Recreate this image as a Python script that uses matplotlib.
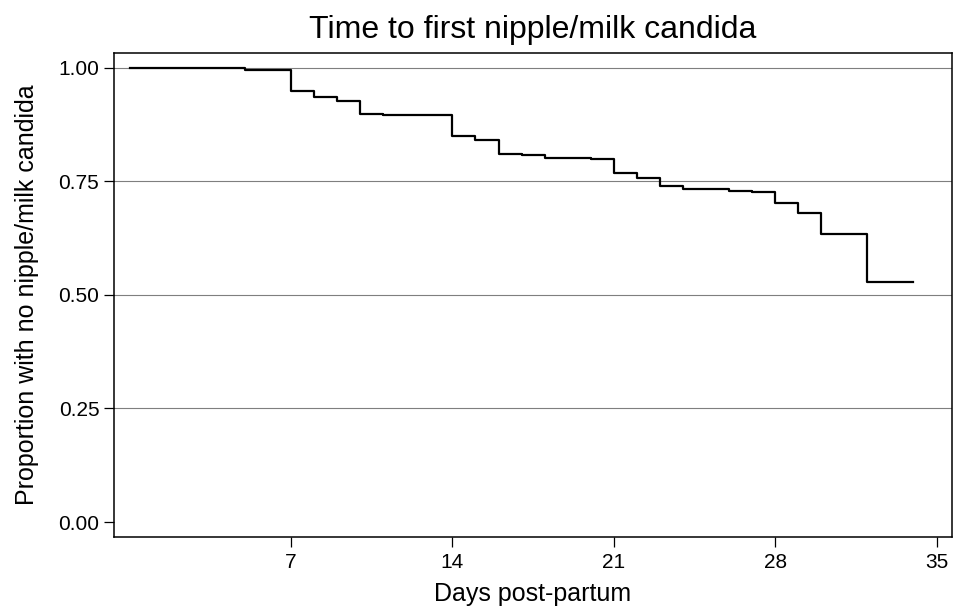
import matplotlib
matplotlib.use("Agg")
import matplotlib.pyplot as plt

plt.rcParams['font.family'] = ['Liberation Sans', 'DejaVu Sans']

# Kaplan-Meier estimate
days = [0, 5, 7, 8, 9, 10, 11, 14, 15, 16, 17, 18, 20, 21, 22, 23, 24, 26, 27, 28, 29, 30, 32, 34]
surv = [1.000, 0.996, 0.949, 0.936, 0.927, 0.899, 0.896, 0.851, 0.841, 0.811, 0.809,
        0.802, 0.799, 0.769, 0.757, 0.740, 0.733, 0.729, 0.727, 0.703, 0.680, 0.634,
        0.528, 0.528]

xticks = [7, 14, 21, 28, 35]
yticks = [0.0, 0.25, 0.5, 0.75, 1.0]

fig = plt.figure(figsize=(9.56, 6.10), dpi=100)
ax = fig.add_axes([0.1192, 0.1197, 0.8766, 0.7934])

for y in yticks[1:]:
    ax.axhline(y, color='#7f7f7f', lw=0.8, zorder=1)

ax.step(days, surv, where='post', color='black', lw=1.6, zorder=3)

ax.set_xlim(-0.68, 35.67)
ax.set_ylim(-0.033, 1.033)
ax.set_xticks(xticks)
ax.set_yticks(yticks)
ax.set_yticklabels(['0.00', '0.25', '0.50', '0.75', '1.00'])
ax.tick_params(labelsize=15, length=7.5, width=0.9, direction='out')
ax.tick_params(axis='x', pad=4)
ax.tick_params(axis='y', pad=3)
for s in ax.spines.values():
    s.set_linewidth(1.1)

ax.set_xlabel('Days post-partum', fontsize=18, labelpad=7)
ax.set_ylabel('Proportion with no nipple/milk candida', fontsize=18, labelpad=14)
ax.set_title('Time to first nipple/milk candida', fontsize=23, pad=10.5)

fig.savefig('out.png', dpi=100)
